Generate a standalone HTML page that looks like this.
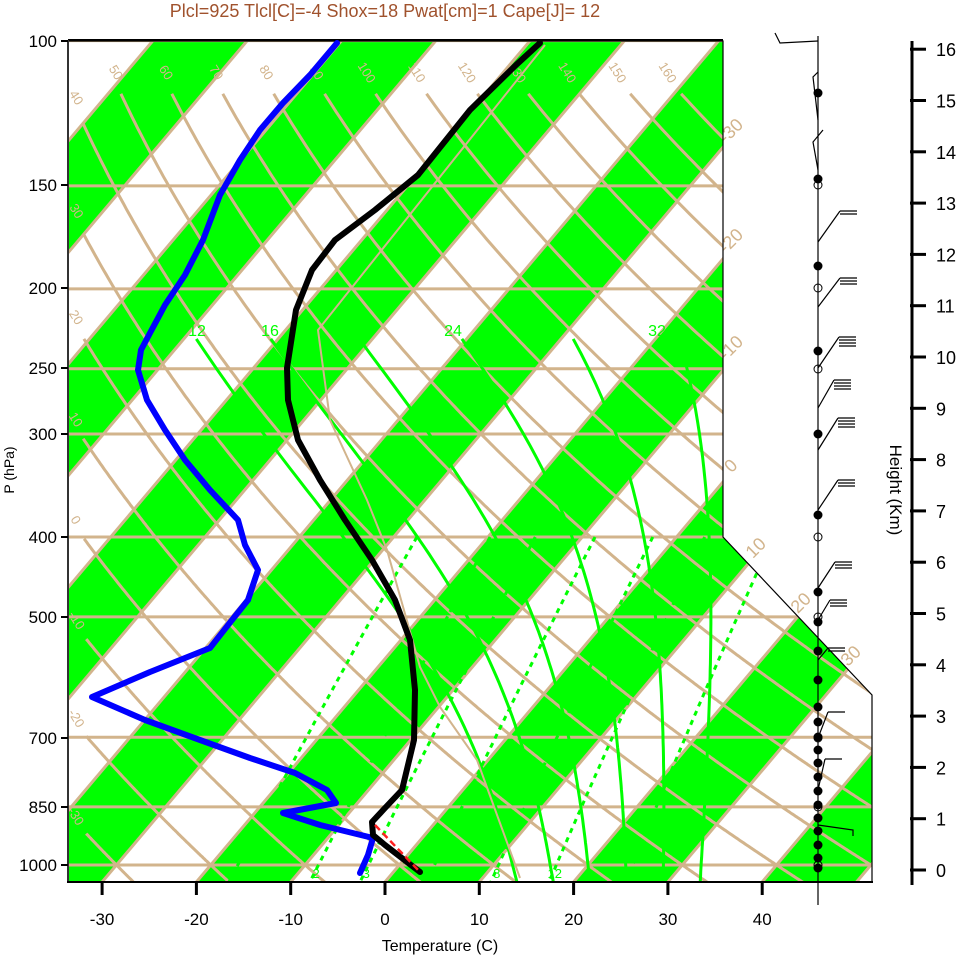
<!DOCTYPE html>
<html><head><meta charset="utf-8"><style>
html,body{margin:0;padding:0;background:#fff;}
svg{display:block;font-family:"Liberation Sans",sans-serif;}
</style></head><body>
<svg id="s" width="961" height="957" viewBox="0 0 961 957" xmlns="http://www.w3.org/2000/svg">
<defs><clipPath id="cp"><polygon points="68,41 723,41 723,537 872,695 872,882 68,882"/></clipPath></defs>
<g id="bg" clip-path="url(#cp)"></g>
<g id="fg"></g>
<text x="385" y="17" text-anchor="middle" font-size="18" fill="#a0522d">Plcl=925 Tlcl[C]=-4 Shox=18 Pwat[cm]=1 Cape[J]= 12</text>
</svg>
<script>
var NS="http://www.w3.org/2000/svg";
var bg=document.getElementById('bg'),fg=document.getElementById('fg');
function el(p,t,a,txt){var e=document.createElementNS(NS,t);for(var k in a)e.setAttribute(k,a[k]);if(txt!==undefined)e.textContent=txt;p.appendChild(e);return e;}
function Y(p){return 865-358*Math.log(1000/p);}
function X(T,y){return 385+9.43*T+0.845*(882-y);}
var TAN="#D2B48C",GR="#00FF00";
for(var T=-140;T<=60;T+=20){
 var a=X(T,882),b=X(T+10,882),c=X(T+10,41),d=X(T,41);
 el(bg,'polygon',{points:a+",882 "+b+",882 "+c+",41 "+d+",41",fill:GR});
}
for(var T=-150;T<=60;T+=10){
 el(bg,'line',{x1:X(T,882),y1:882,x2:X(T,41),y2:41,stroke:TAN,'stroke-width':3});
}
[100,150,200,250,300,400,500,700,850,1000].forEach(function(p){var y=Y(p);el(bg,'line',{x1:68,y1:y,x2:872,y2:y,stroke:TAN,'stroke-width':3});});
for(var th=-30;th<=160;th+=10){
 var pts=[],lab=null,dist=0,prev=null;
 for(var p=100;p<=1060;p+=2){
  var y=Y(p),T=(th+273.15)*Math.pow(p/1000,0.286)-273.15,x=X(T,y);
  if(y<73||x<72)continue;
  if(!lab){lab=[x,y];prev=[x,y];continue;}
  dist+=Math.hypot(x-prev[0],y-prev[1]);prev=[x,y];
  if(dist>20)pts.push(x.toFixed(1)+","+y.toFixed(1));
 }
 el(bg,'polyline',{points:pts.join(" "),fill:"none",stroke:TAN,'stroke-width':3});
 if(lab&&lab[0]<720){el(fg,'text',{x:lab[0],y:lab[1],'font-size':13,fill:TAN,'text-anchor':'middle',transform:"rotate(58 "+lab[0]+" "+lab[1]+")"},String(th));}
}
[1,2,3,5,8,12,20].forEach(function(w){
 var pts=[];
 for(var p=400;p<=1050;p+=10){var e=w*p/(622+w),l=Math.log(e/6.112),Td=243.5*l/(17.67-l),y=Y(p);pts.push(X(Td,y).toFixed(1)+","+y.toFixed(1));}
 el(bg,'polyline',{points:pts.join(" "),fill:"none",stroke:GR,'stroke-width':3,'stroke-dasharray':"5,5"});
 var e=w*1030/(622+w),l=Math.log(e/6.112),Td=243.5*l/(17.67-l),y=Y(1030);
 el(bg,'text',{x:X(Td,y)+3,y:878,'font-size':13,fill:GR,'text-anchor':'middle'},String(w));
});
function es(T){return 6.112*Math.exp(17.67*(T-273.15)/(T-29.65));}
function dTdp(T,p){var e=es(T),rs=0.622*e/(p-e);return (287.04*T+2.501e6*rs)/(p*(1005.7+2.501e6*2.501e6*rs*0.622/(287.04*T*T)));}
[12,16,20,24,28,32].forEach(function(tw){
 var T=tw+273.15,p=1000,up=[],dn=[];
 while(p>230){up.push([p,T]);var h=-10;T+=dTdp(T,p)*h;p+=h;}up.push([p,T]);
 T=tw+273.15;p=1000;while(p<1050){var h=10;T+=dTdp(T,p)*h;p+=h;dn.push([p,T]);}
 var all=up.reverse().concat(dn);
 var pts=all.map(function(q){var y=Y(q[0]);return X(q[1]-273.15,y).toFixed(1)+","+y.toFixed(1);});
 el(bg,'polyline',{points:pts.join(" "),fill:"none",stroke:GR,'stroke-width':3});
});
[[12,197],[16,270],[24,453],[32,657]].forEach(function(a){
 el(fg,'text',{x:a[1],y:336,'font-size':16,fill:GR,'text-anchor':'middle'},String(a[0]));
});
el(bg,'polyline',{points:"520,878 477,760 440,707 420,667 387,550 367,500 330,420 318,330 545,45",fill:"none",stroke:TAN,'stroke-width':2});
[[-30,735,135],[-20,735,245],[-10,735,352],[0,735,470],[10,760,552],[20,805,607],[30,855,660]].forEach(function(a){
 el(fg,'text',{x:a[1],y:a[2],'font-size':18,fill:TAN,'text-anchor':'middle',transform:"rotate(-45 "+a[1]+" "+a[2]+")"},String(a[0]));
});
el(fg,'polyline',{points:"68,41 723,41 723,537 872,695 872,882",fill:"none",stroke:"#000",'stroke-width':1.2});
el(fg,'line',{x1:68,y1:40,x2:723,y2:40,stroke:"#000",'stroke-width':2});
el(fg,'line',{x1:68,y1:40,x2:68,y2:883,stroke:"#333",'stroke-width':2});
el(fg,'line',{x1:67,y1:882,x2:873,y2:882,stroke:"#000",'stroke-width':2});
el(fg,'polyline',{points:"337,43 310,75 283,103 260,130 240,160 220,195 203,240 185,275 165,305 150,333 141,350 138,370 147,400 165,430 185,460 210,490 238,520 245,545 258,570 248,600 232,620 210,648 150,672 92,697 145,720 200,740 250,758 295,773 327,790 336,803 283,813 320,825 373,838 368,855 360,873",fill:"none",stroke:"#0000FF",'stroke-width':6,'stroke-linejoin':'round','stroke-linecap':'round'});
el(fg,'polyline',{points:"540,43 516,65 470,110 418,175 375,210 335,240 312,270 296,310 287,368 288,400 298,440 320,480 345,520 372,560 395,600 410,640 415,690 414,740 402,790 385,808 372,822 373,835 385,845 420,872",fill:"none",stroke:"#000",'stroke-width':6,'stroke-linejoin':'round','stroke-linecap':'round'});
el(fg,'line',{x1:375,y1:825,x2:420,y2:872,stroke:"#ff2020",'stroke-width':2.5,'stroke-dasharray':"7,4"});
[[100,41],[150,185],[200,288],[250,368],[300,434],[400,537],[500,617],[700,738],[850,807],[1000,865]].forEach(function(a){
 el(fg,'text',{x:57,y:a[1]+6,'font-size':17,'text-anchor':'end',fill:"#000"},String(a[0]));
 el(fg,'line',{x1:61,y1:a[1],x2:68,y2:a[1],stroke:"#000",'stroke-width':2});
});
el(fg,'text',{x:14,y:470,'font-size':14,'text-anchor':'middle',transform:"rotate(-90 14 470)"},"P (hPa)");
for(var t=-30;t<=40;t+=10){var x=385+9.43*t;el(fg,'line',{x1:x,y1:882,x2:x,y2:895,stroke:"#000",'stroke-width':3});el(fg,'text',{x:x,y:925,'font-size':17,'text-anchor':'middle'},String(t));}
el(fg,'text',{x:440,y:951,'font-size':16,'text-anchor':'middle'},"Temperature (C)");
el(fg,'line',{x1:912,y1:41,x2:912,y2:885,stroke:"#000",'stroke-width':3});
for(var k=0;k<=16;k++){var y=870-51.3*k;el(fg,'line',{x1:910,y1:y,x2:926,y2:y,stroke:"#000",'stroke-width':3});el(fg,'text',{x:936,y:y+7,'font-size':18},String(k));}
el(fg,'text',{x:890,y:490,'font-size':17,'text-anchor':'middle',transform:"rotate(90 890 490)"},"Height (Km)");
el(fg,'line',{x1:818,y1:36,x2:818,y2:905,stroke:"#000",'stroke-width':1.2});
[93,179,266,351,434,515,592,622,651,680,707,722,737,750,763,777,791,805,818,831,845,858,868].forEach(function(y){el(fg,'circle',{cx:818,cy:y,r:4.5,fill:"#000"});});
[185,288,369,537,617,738,807,865].forEach(function(y){el(fg,'circle',{cx:818,cy:y,r:4,fill:"none",stroke:"#000",'stroke-width':1});});
function barb(x0,y0,x1,y1,n){el(fg,'line',{x1:x0,y1:y0,x2:x1,y2:y1,stroke:"#000",'stroke-width':1.2});for(var i=0;i<n;i++){el(fg,'line',{x1:x1,y1:y1+i*3,x2:x1+17,y2:y1+i*3,stroke:"#000",'stroke-width':1.2});}}
barb(818,242,840,211,2);barb(818,307,840,278,3);barb(818,368,839,337,4);barb(818,408,834,380,4);barb(818,450,838,418,4);barb(818,510,838,480,3);barb(818,588,835,562,3);barb(818,620,830,600,3);barb(818,660,828,648,2);barb(818,738,828,712,1);barb(818,790,825,759,1);
el(fg,'polyline',{points:"818,41 780,43 775,33",fill:"none",stroke:"#000",'stroke-width':1.2});
el(fg,'polyline',{points:"818,120 813,77 818,72",fill:"none",stroke:"#000",'stroke-width':1.2});
el(fg,'polyline',{points:"818,170 813,142 823,130",fill:"none",stroke:"#000",'stroke-width':1.2});
el(fg,'polyline',{points:"818,825 853,830 853,836",fill:"none",stroke:"#000",'stroke-width':1.2});
</script>
</body></html>
